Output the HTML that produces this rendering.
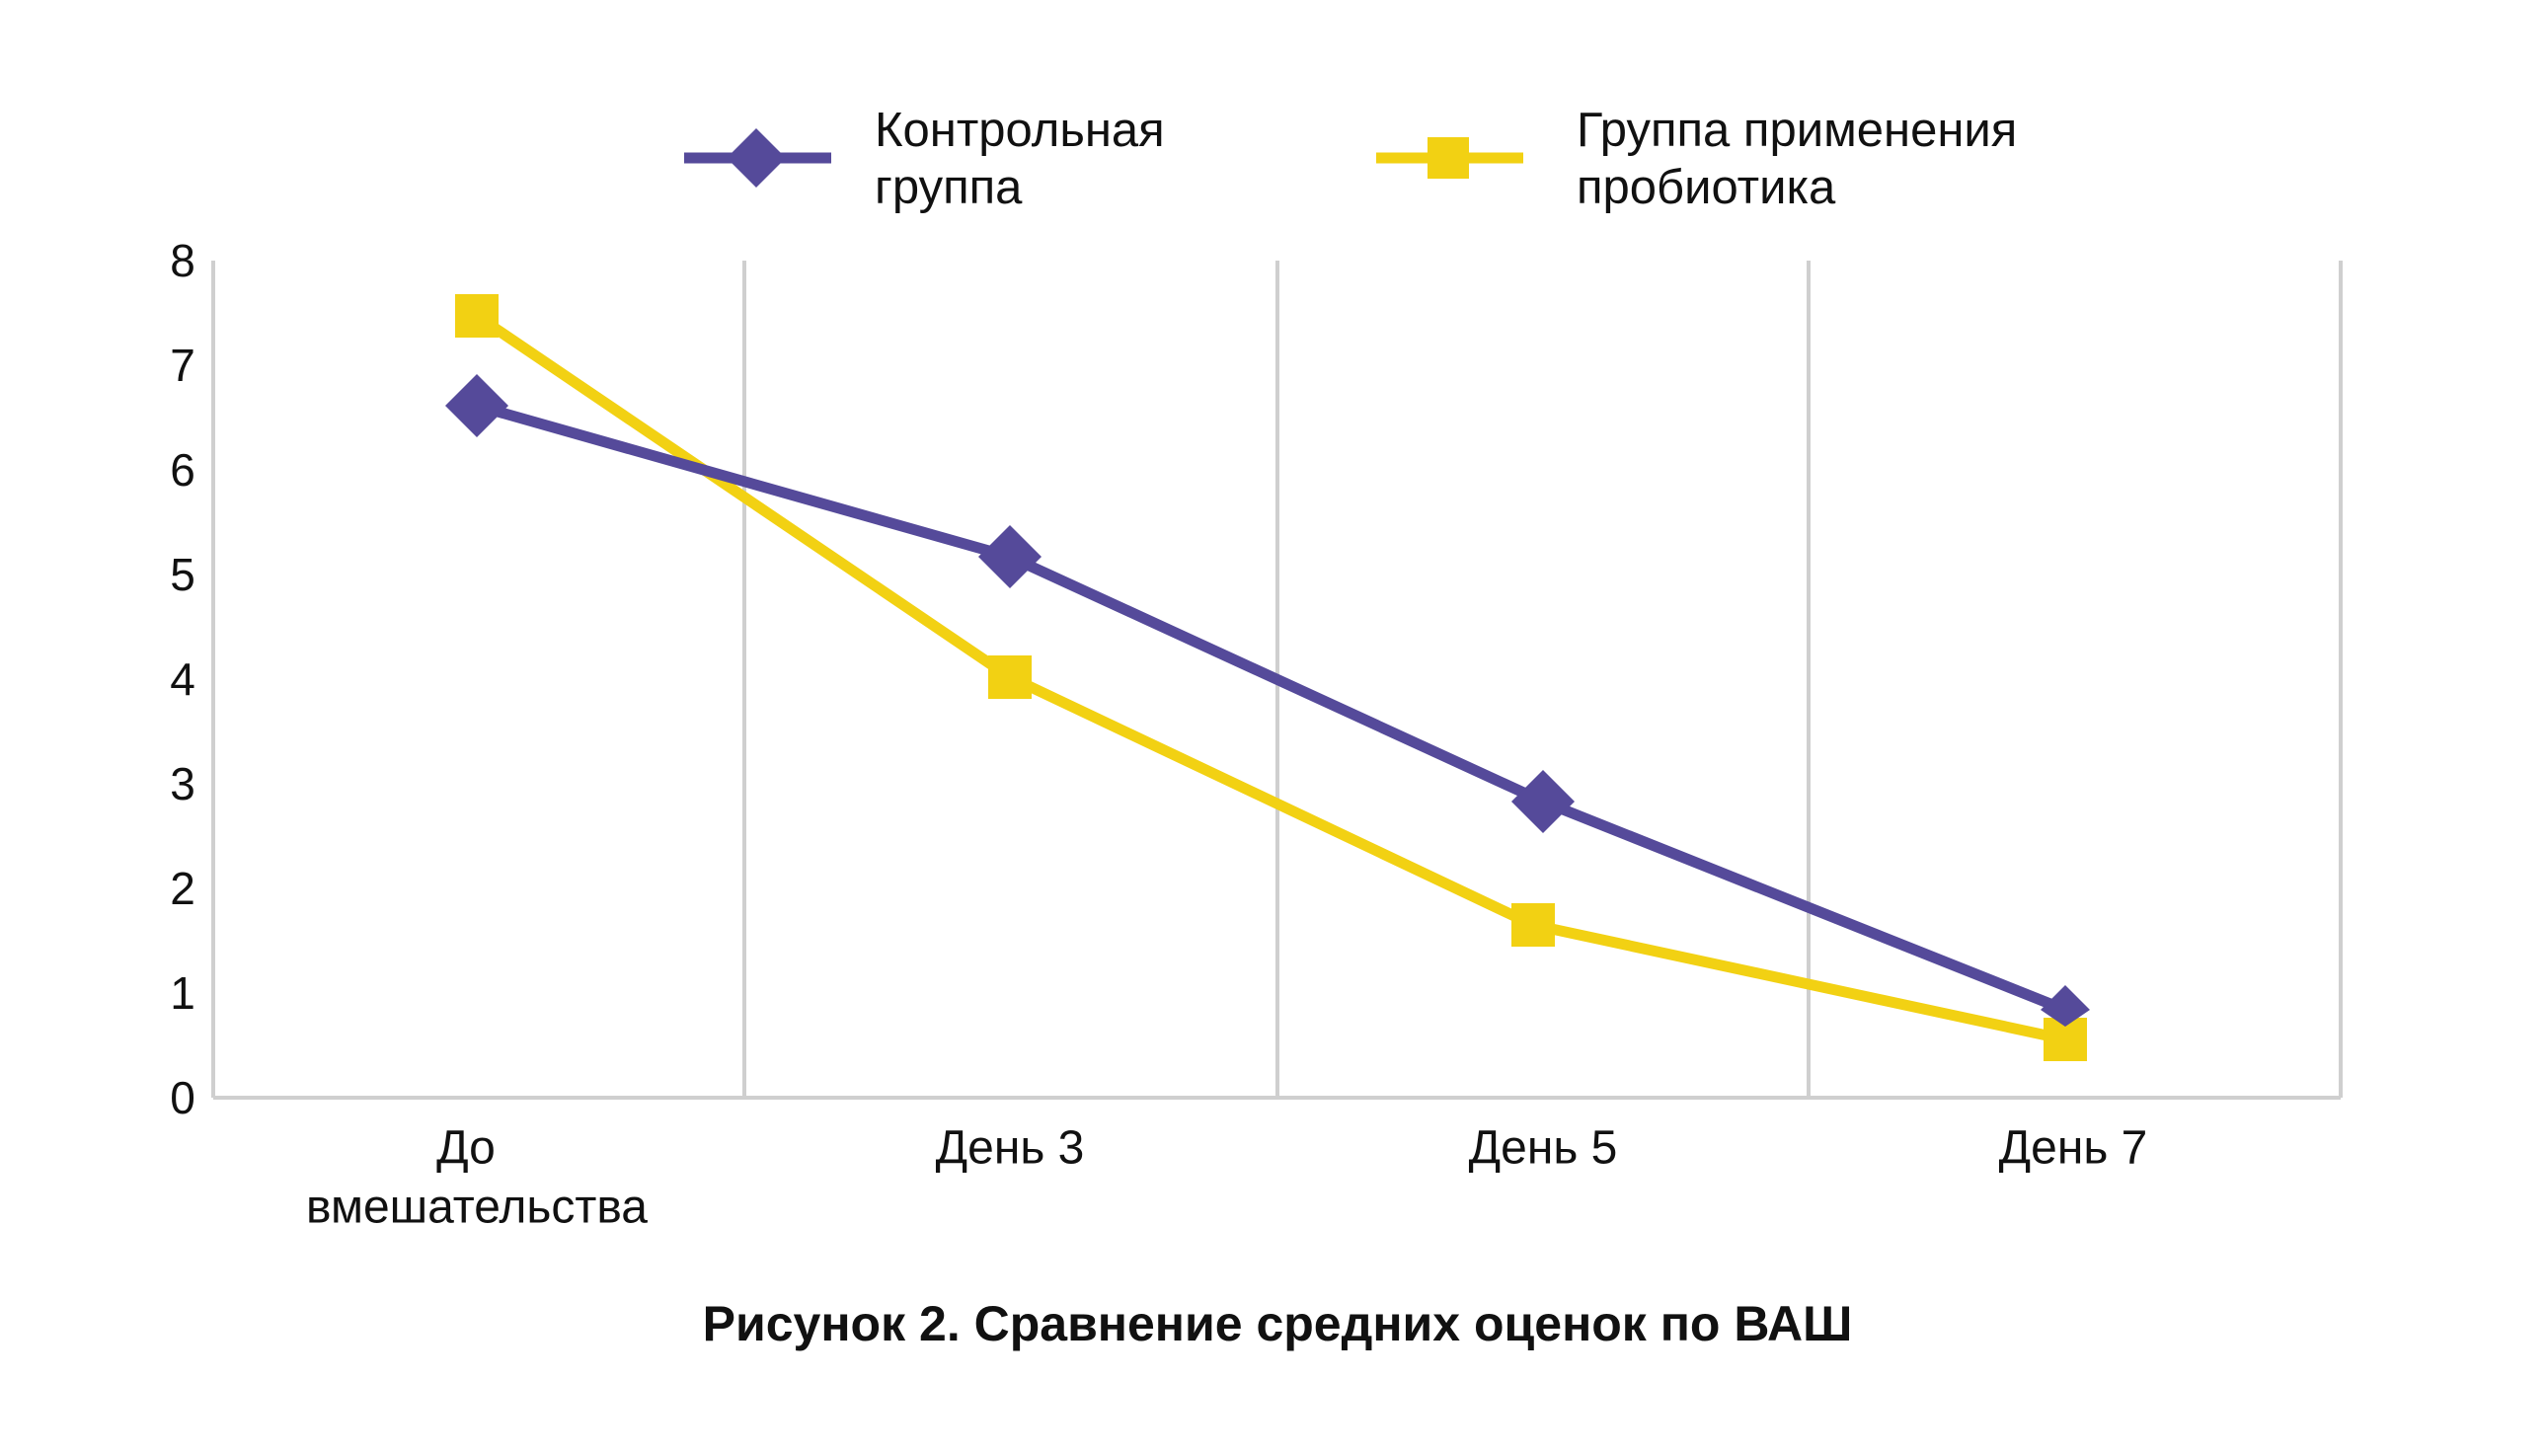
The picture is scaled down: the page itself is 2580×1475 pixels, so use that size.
<!DOCTYPE html>
<html><head><meta charset="utf-8"><style>
html,body{margin:0;padding:0;background:#fff;}
svg{display:block;}
text{font-family:"Liberation Sans","DejaVu Sans",sans-serif;fill:#111;}
</style></head><body>
<svg width="2580" height="1475" viewBox="0 0 2580 1475" xmlns="http://www.w3.org/2000/svg">
<rect width="2580" height="1475" fill="#fff"/>
<g stroke="#cfcfcf" stroke-width="4">
<line x1="216" y1="264" x2="216" y2="1112"/>
<line x1="754" y1="264" x2="754" y2="1112"/>
<line x1="1294" y1="264" x2="1294" y2="1112"/>
<line x1="1832" y1="264" x2="1832" y2="1112"/>
<line x1="2371" y1="264" x2="2371" y2="1112"/>
<line x1="216" y1="1112" x2="2371" y2="1112"/>
</g>
<g font-size="46" text-anchor="middle" dominant-baseline="central">
<text x="185" y="1112">0</text>
<text x="185" y="1006">1</text>
<text x="185" y="900">2</text>
<text x="185" y="794">3</text>
<text x="185" y="688">4</text>
<text x="185" y="582">5</text>
<text x="185" y="476">6</text>
<text x="185" y="370">7</text>
<text x="185" y="264">8</text>
</g>
<g font-size="48" text-anchor="middle" dominant-baseline="central">
<text x="472" y="1163">До</text>
<text x="483" y="1223">вмешательства</text>
<text x="1023" y="1163">День 3</text>
<text x="1563" y="1163">День 5</text>
<text x="2100" y="1163">День 7</text>
</g>
<polyline points="483,320 1023,686 1553,937 2092,1053" fill="none" stroke="#f2d113" stroke-width="11"/>
<polyline points="483,411 1023,564 1563,812 2092,1023" fill="none" stroke="#554a9a" stroke-width="11"/>
<g fill="#f2d113">
<rect x="461" y="298" width="44" height="44"/>
<rect x="1001" y="664" width="44" height="44"/>
<rect x="1531" y="915" width="44" height="44"/>
<rect x="2070" y="1031" width="44" height="44"/>
</g>
<g fill="#554a9a">
<polygon points="483,379 515,411 483,443 451,411"/>
<polygon points="1023,532 1055,564 1023,596 991,564"/>
<polygon points="1563,780 1595,812 1563,844 1531,812"/>
<polygon points="2092,998 2117,1023 2092,1040 2067,1023"/>
</g>
<line x1="693" y1="160" x2="842" y2="160" stroke="#554a9a" stroke-width="11"/>
<polygon points="766,130 796,160 766,190 736,160" fill="#554a9a"/>
<line x1="1394" y1="160" x2="1543" y2="160" stroke="#f2d113" stroke-width="11"/>
<rect x="1446" y="139" width="42" height="42" fill="#f2d113"/>
<g font-size="49" dominant-baseline="central">
<text x="886" y="132">Контрольная</text>
<text x="886" y="190">группа</text>
<text x="1597" y="132">Группа применения</text>
<text x="1597" y="190">пробиотика</text>
</g>
<text x="1294" y="1341" font-size="50" font-weight="bold" text-anchor="middle" dominant-baseline="central">Рисунок 2. Сравнение средних оценок по ВАШ</text>
</svg>
</body></html>
